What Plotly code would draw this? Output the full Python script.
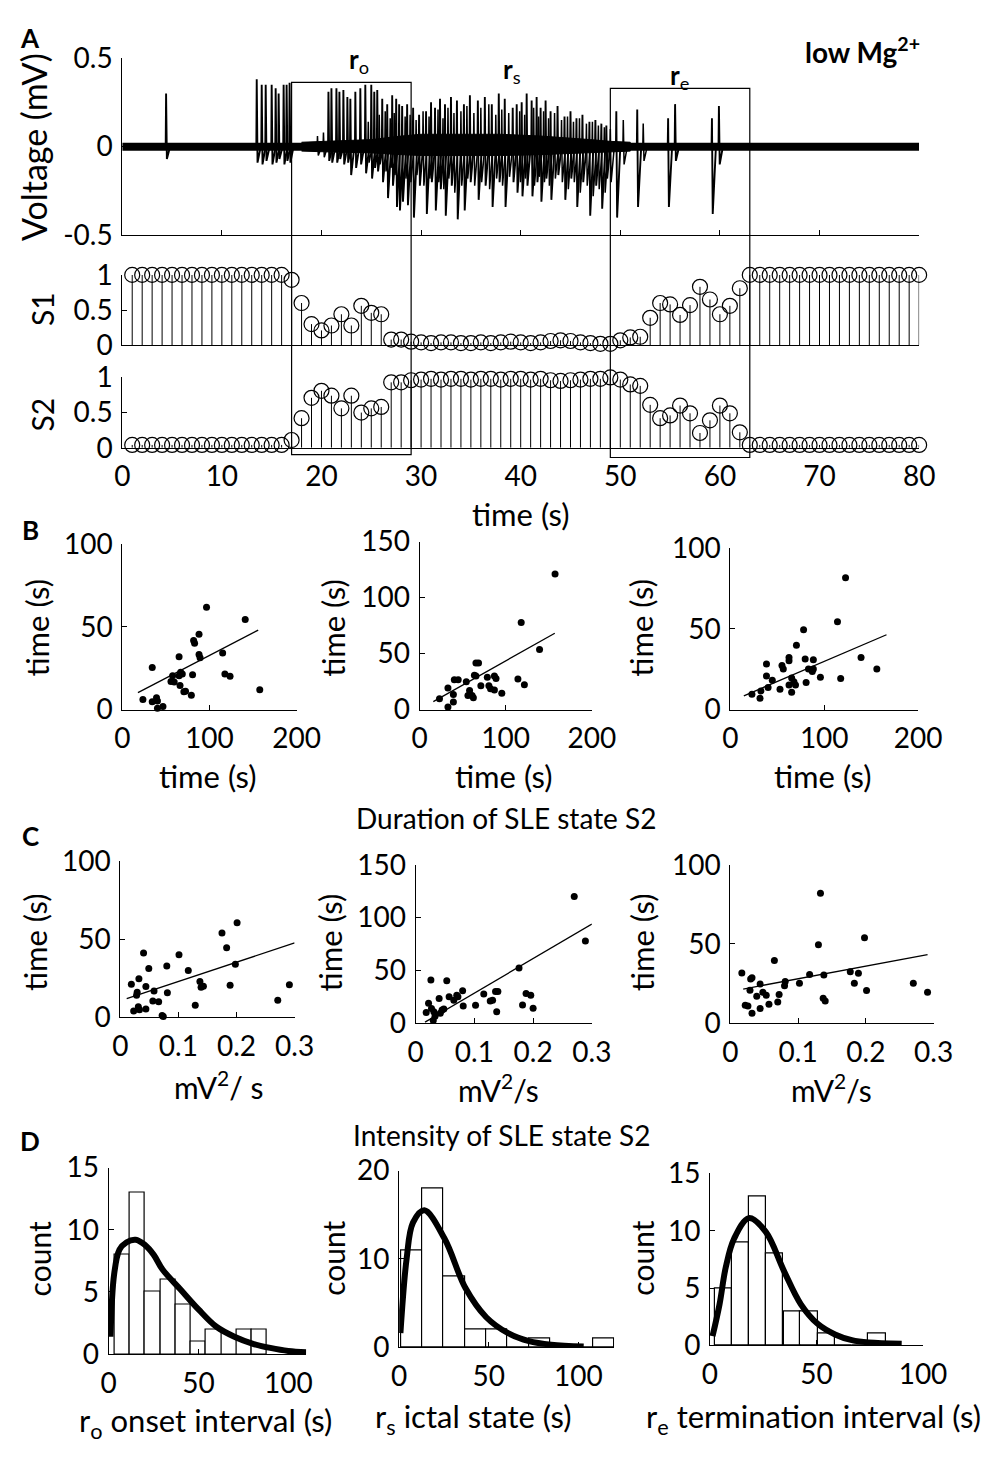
import plotly.graph_objects as go

W, H = 1008, 1460
FONT = "Lato"
BLACK = "black"

# ---------------- Panel A: field potential ----------------
trace_span = [0.0, 80.0]
# envelope of the dense background activity during the seizure (s, mV)
band_t = [18, 21, 25, 28, 30, 34, 38, 42, 45, 47, 49, 51]
band_hi = [0.025, 0.03, 0.04, 0.06, 0.07, 0.07, 0.07, 0.06, 0.05, 0.04, 0.03, 0.025]
band_lo = [-0.025, -0.03, -0.035, -0.045, -0.05, -0.05, -0.05, -0.045, -0.04, -0.035, -0.03, -0.025]
# spike events: time (s), positive peak (mV), negative trough (mV)
spike_t = [4.4,
           13.5, 14.0, 14.4, 15.0, 15.4, 15.7, 16.2, 16.5, 16.8,
           20.7, 21.0, 21.5, 21.8, 22.2, 22.6, 22.9, 23.4, 23.9, 24.4,
           25.0, 25.3, 25.6, 26.1, 26.6, 27.1, 27.5, 27.8, 28.1, 28.6,
           29.2, 29.8, 30.5, 31.0, 31.4, 31.9, 32.4, 33.0, 33.6, 34.3,
           34.9, 35.7, 36.4, 37.1, 37.8, 38.4, 39.2, 39.6, 40.1, 40.6,
           41.1, 41.6, 42.0, 42.5, 43.0, 43.7, 44.4, 45.0, 45.6, 46.2,
           46.9, 47.5, 48.1, 48.6,
           49.6, 51.7, 54.8, 55.5, 59.2, 59.9]
spike_peak = [0.30,
              0.38, 0.35, 0.35, 0.35, 0.33, 0.30, 0.35, 0.35, 0.36,
              0.31, 0.33, 0.33, 0.31, 0.32, 0.28, 0.27, 0.31, 0.33, 0.35,
              0.35, 0.31, 0.32, 0.27, 0.24, 0.29, 0.27, 0.24, 0.23, 0.24,
              0.22, 0.18, 0.20, 0.25, 0.22, 0.27, 0.24, 0.28, 0.26, 0.24,
              0.29, 0.26, 0.28, 0.24, 0.30, 0.27, 0.22, 0.24, 0.25, 0.30,
              0.26, 0.28, 0.22, 0.26, 0.20, 0.23, 0.17, 0.20, 0.16, 0.18,
              0.14, 0.15, 0.13, 0.12,
              0.20, 0.21, 0.16, 0.24, 0.16, 0.23]
spike_trough = [-0.07,
                -0.09, -0.10, -0.08, -0.10, -0.09, -0.07, -0.10, -0.08, -0.09,
                -0.08, -0.09, -0.09, -0.07, -0.10, -0.09, -0.16, -0.12, -0.10, -0.15,
                -0.18, -0.12, -0.14, -0.20, -0.29, -0.22, -0.34, -0.36, -0.31, -0.33,
                -0.40, -0.22, -0.38, -0.20, -0.36, -0.24, -0.39, -0.22, -0.41, -0.36,
                -0.20, -0.30, -0.22, -0.34, -0.20, -0.34, -0.20, -0.26, -0.28, -0.22,
                -0.28, -0.20, -0.31, -0.18, -0.30, -0.16, -0.30, -0.18, -0.34, -0.20,
                -0.39, -0.22, -0.35, -0.18,
                -0.40, -0.34, -0.34, -0.08, -0.38, -0.10]
# smaller discharges riding between the main spikes (s, mV)
minor_t = [19.6, 20.2, 24.7, 25.8, 26.4, 26.9, 27.3, 28.4, 28.9, 29.5, 30.2, 30.8, 31.7, 32.2, 32.7,
           33.3, 34.0, 34.6, 35.3, 36.0, 36.8, 37.5, 38.1, 38.8, 39.9, 40.4, 41.3, 41.8, 42.3,
           42.8, 43.4, 44.1, 44.7, 45.3, 45.9, 46.6, 47.2, 47.8, 48.4, 49.0, 50.3, 52.3]
minor_peak = [0.06, 0.08, 0.14, 0.18, 0.20, 0.16, 0.19, 0.17, 0.18, 0.15, 0.20, 0.17, 0.21, 0.16, 0.22,
              0.19, 0.20, 0.23, 0.19, 0.22, 0.24, 0.18, 0.21, 0.19, 0.20, 0.18, 0.22, 0.17, 0.20,
              0.16, 0.19, 0.15, 0.17, 0.14, 0.16, 0.13, 0.14, 0.12, 0.11, 0.10, 0.15, 0.13]
minor_trough = [-0.05, -0.06, -0.09, -0.10, -0.14, -0.12, -0.16, -0.18, -0.20, -0.16, -0.22, -0.18, -0.20, -0.24,
                -0.18, -0.26, -0.22, -0.18, -0.22, -0.20, -0.24, -0.18, -0.22, -0.17, -0.20, -0.18, -0.22,
                -0.17, -0.20, -0.22, -0.18, -0.20, -0.24, -0.20, -0.26, -0.22, -0.28, -0.24, -0.26, -0.20,
                -0.10, -0.08]

# hidden-state probabilities, one value per second
sec = list(range(1, 81))
s1 = ([1.0] * 16 +
      [0.93, 0.60, 0.30, 0.21, 0.28, 0.44, 0.28, 0.56, 0.46, 0.44, 0.08, 0.08, 0.05] +
      [0.04, 0.03, 0.04, 0.04, 0.03, 0.03, 0.04, 0.03, 0.04, 0.05,
       0.04, 0.03, 0.04, 0.06, 0.07, 0.06, 0.04, 0.03, 0.02] +
      [0.02, 0.07, 0.11, 0.12, 0.39, 0.60, 0.58, 0.43, 0.57, 0.83, 0.65, 0.44, 0.56, 0.81] +
      [1.0] * 18)
s2 = ([0.04] * 16 +
      [0.11, 0.42, 0.71, 0.81, 0.74, 0.56, 0.74, 0.50, 0.56, 0.58, 0.93, 0.93, 0.96] +
      [0.97, 0.98, 0.97, 0.98, 0.98, 0.97, 0.98, 0.98, 0.97, 0.98,
       0.98, 0.97, 0.98, 0.96, 0.95, 0.96, 0.97, 0.98, 0.98] +
      [1.0, 0.97, 0.90, 0.88, 0.61, 0.42, 0.46, 0.60, 0.49, 0.21, 0.39, 0.60, 0.49, 0.22] +
      [0.04] * 18)

onset_win = [17, 29]
term_win = [49, 63]

# ---------------- Panel B: duration vs duration ----------------
b1_x = [23.7, 34.4, 34.4, 39.3, 40.4, 40.4, 46.7, 57.8, 55.9, 59.6, 65.2, 65.2, 67.0, 66.3, 68.9,
        70.7, 72.6, 79.3, 80.7, 81.9, 83.0, 88.1, 88.1, 89.3, 96.7, 115.2, 117.8, 123.7, 141.1, 157.8]
b1_y = [6.1, 25.4, 4.7, 7.1, 5.1, 0.8, 1.8, 20.5, 17.0, 16.6, 32.0, 20.5, 22.5, 14.6, 21.5,
        10.7, 11.0, 8.7, 21.1, 41.8, 40.2, 45.6, 33.3, 31.4, 62.0, 34.3, 21.5, 20.1, 54.6, 12.0]
b1_fit_x = [18, 156]
b1_fit_y = [10.2, 48.1]

b2_x = [23.2, 33.0, 33.0, 39.3, 39.3, 40.4, 44.9, 54.3, 56.2, 58.1, 61.0, 62.5, 63.7, 65.5, 68.5,
        65.5, 71.2, 78.7, 80.5, 82.4, 86.9, 86.9, 88.8, 95.5, 114.2, 121.7, 118.0, 139.3, 157.3]
b2_y = [9.6, 19.2, 2.3, 13.4, 6.7, 26.5, 26.5, 24.7, 12.5, 16.9, 12.5, 10.5, 30.6, 41.6, 41.6,
        30.0, 21.3, 28.8, 21.3, 18.6, 17.5, 30.0, 27.7, 14.6, 27.3, 22.1, 77.7, 53.5, 121.0]
b2_fit_x = [16, 157]
b2_fit_y = [7.0, 68.1]

b3_x = [23.0, 31.6, 32.6, 38.5, 38.5, 40.2, 44.7, 52.9, 55.0, 56.4, 62.5, 62.5, 62.5, 65.3, 65.3,
        67.7, 69.4, 70.4, 78.0, 79.7, 80.7, 83.2, 87.3, 88.4, 88.4, 95.9, 114.1, 117.5, 122.7, 139.2, 156.0]
b3_y = [9.5, 7.0, 11.5, 28.2, 20.8, 13.7, 18.2, 12.5, 27.3, 25.2, 32.3, 30.3, 15.2, 19.6, 10.7,
        17.2, 15.2, 39.8, 49.5, 31.3, 16.7, 25.2, 23.6, 30.9, 25.2, 20.0, 54.5, 19.2, 81.8, 32.3, 25.2]
b3_fit_x = [14.4, 166.3]
b3_fit_y = [8.5, 46.4]

# ---------------- Panel C: intensity vs duration ----------------
c1_x = [0.019, 0.023, 0.028, 0.029, 0.031, 0.032, 0.033, 0.040, 0.044, 0.044, 0.049, 0.056, 0.058,
        0.066, 0.072, 0.074, 0.080, 0.081, 0.101, 0.117, 0.129, 0.137, 0.139, 0.143, 0.175, 0.183,
        0.189, 0.198, 0.201, 0.271, 0.291]
c1_y = [21.1, 4.0, 14.0, 16.0, 6.6, 24.6, 4.8, 41.0, 19.6, 5.2, 31.2, 10.4, 16.7,
        9.8, 1.0, 0.4, 32.7, 15.6, 40.0, 29.8, 7.7, 22.9, 19.1, 19.8, 53.8, 44.4,
        20.4, 33.8, 60.4, 10.8, 20.8]
c1_fit_x = [0.011, 0.300]
c1_fit_y = [11.9, 47.5]

c2_x = [0.018, 0.022, 0.026, 0.027, 0.031, 0.030, 0.033, 0.040, 0.042, 0.045, 0.048, 0.053, 0.057,
        0.065, 0.070, 0.072, 0.080, 0.081, 0.102, 0.116, 0.127, 0.131, 0.136, 0.140, 0.138, 0.176,
        0.182, 0.188, 0.196, 0.200, 0.270, 0.289]
c2_y = [10.1, 18.7, 40.8, 13.8, 10.7, 2.4, 6.4, 23.3, 9.2, 12.3, 13.2, 40.2, 24.9,
        21.5, 26.4, 25.0, 30.7, 16.2, 16.9, 27.6, 20.8, 21.5, 30.0, 30.0, 10.7, 52.2,
        17.2, 27.9, 26.4, 14.1, 120.0, 77.7]
c2_fit_x = [0.016, 0.300]
c2_fit_y = [0.9, 93.8]

c3_x = [0.017, 0.022, 0.026, 0.029, 0.030, 0.032, 0.032, 0.039, 0.044, 0.044, 0.048, 0.053, 0.057,
        0.065, 0.070, 0.072, 0.080, 0.081, 0.102, 0.117, 0.130, 0.133, 0.137, 0.138, 0.140, 0.177,
        0.183, 0.189, 0.198, 0.201, 0.270, 0.291]
c3_y = [31.7, 11.3, 10.8, 20.7, 27.9, 6.2, 28.7, 17.0, 24.6, 9.2, 19.4, 17.6, 11.9,
        39.5, 13.3, 18.0, 23.6, 26.2, 25.2, 30.7, 49.4, 82.0, 15.6, 30.3, 13.9, 32.4,
        25.2, 31.4, 53.9, 20.5, 25.2, 19.4]
c3_fit_x = [0.019, 0.291]
c3_fit_y = [21.5, 43.2]

# ---------------- Panel D: interval histograms with fitted densities ----------------
d1_centers = [7.5, 16.0, 24.5, 33.0, 41.5, 50.0, 58.5, 67.0, 75.5, 84.0]
d1_counts = [8, 13, 5, 6, 4, 1, 2, 0, 2, 2]
d1_width = 8.5
d1_fit_x = [1, 3, 6, 10, 15, 20, 25, 30, 40, 50, 60, 70, 80, 90, 100, 110]
d1_fit_y = [1.4, 6.4, 8.4, 9.0, 9.2, 8.8, 8.0, 6.8, 5.2, 3.6, 2.2, 1.4, 0.85, 0.5, 0.25, 0.15]

d2_centers = [6.9, 18.8, 30.7, 42.6, 54.5, 66.4, 78.3, 90.2, 102.1, 114.0]
d2_counts = [11, 18, 8, 2, 2, 0, 1, 0, 0, 1]
d2_width = 11.9
d2_fit_x = [0.7, 4.2, 7.7, 14.0, 25.3, 37.0, 48.6, 60.8, 72.5, 84.9, 103.0]
d2_fit_y = [1.6, 10.1, 14.1, 15.5, 12.3, 6.7, 3.4, 1.6, 0.7, 0.3, 0.1]

d3_centers = [6.15, 14.35, 22.25, 30.45, 38.65, 46.5, 54.55, 62.65, 70.55, 78.4]
d3_counts = [5, 9, 13, 8, 3, 3, 1, 0, 0, 1]
d3_width = 8.05
d3_fit_x = [1.2, 4.5, 7.4, 11.3, 18.3, 26.2, 34.7, 42.6, 50.4, 58.7, 66.6, 74.5, 90.0]
d3_fit_y = [0.8, 3.6, 6.8, 9.3, 11.1, 9.9, 6.5, 3.6, 1.9, 0.95, 0.45, 0.25, 0.15]


# ---------------- helpers ----------------
def dom_x(left, right):
    return [left / W, right / W]


def dom_y(top, bottom):
    return [1 - bottom / H, 1 - top / H]


def px(x):
    return x / W


def py(y):
    return 1 - y / H


fig = go.Figure()
layout = dict(width=W, height=H, margin=dict(l=0, r=0, t=0, b=0),
              paper_bgcolor="white", plot_bgcolor="white", showlegend=False,
              font=dict(family=FONT, color=BLACK))

TICKFONT = dict(family=FONT, size=28, color=BLACK)


def axis_pair(n, xdom, ydom, xr, yr, xt=None, xtt=None, yt=None, ytt=None,
              xlabels=True, xticks="inside", yticks="inside", xline=True):
    sx = "" if n == 1 else str(n)
    layout["xaxis" + sx] = dict(
        domain=dom_x(*xdom), range=xr, anchor="y" + sx, showgrid=False, zeroline=False,
        showline=xline, linecolor=BLACK, linewidth=1, mirror=False,
        ticks=xticks if xt else "", ticklen=5, tickwidth=1, tickcolor=BLACK,
        tickvals=xt, ticktext=xtt if xlabels else None, showticklabels=bool(xlabels and xt),
        tickfont=TICKFONT, ticklabelstandoff=4, fixedrange=True)
    layout["yaxis" + sx] = dict(
        domain=dom_y(*ydom), range=yr, anchor="x" + sx, showgrid=False, zeroline=False,
        showline=True, linecolor=BLACK, linewidth=1, mirror=False,
        ticks=yticks, ticklen=5, tickwidth=1, tickcolor=BLACK,
        tickvals=yt, ticktext=ytt, tickfont=TICKFONT, ticklabelstandoff=3, fixedrange=True)
    return ("x" + sx, "y" + sx)


# ---------------- Panel A axes ----------------
tenths = list(range(0, 81, 10))
ax_v = axis_pair(1, (118, 941), (41, 222.5), [0, 80], [-0.5, 0.5],
                 xt=tenths, xlabels=False, yt=[-0.5, 0, 0.5], ytt=["-0.5", "0", "0.5"])
ax_s1 = axis_pair(2, (118, 941), (263, 335), [0, 80], [0, 1],
                  xt=None, yt=[0, 0.5, 1], ytt=["0", "0.5", "1"])
ax_s2 = axis_pair(3, (118, 941), (368, 440), [0, 80], [0, 1],
                  xt=tenths, xtt=[str(v) for v in tenths], xticks="",
                  yt=[0, 0.5, 1], ytt=["0", "0.5", "1"])

# dense background activity
fig.add_trace(go.Scatter(x=band_t + band_t[::-1], y=band_hi + band_lo[::-1], mode="lines",
                         fill="toself", fillcolor=BLACK, line=dict(color=BLACK, width=1),
                         xaxis=ax_v[0], yaxis=ax_v[1], hoverinfo="skip"))
# baseline activity
fig.add_trace(go.Scatter(x=trace_span, y=[0, 0], mode="lines",
                         line=dict(color=BLACK, width=8), xaxis=ax_v[0], yaxis=ax_v[1],
                         hoverinfo="skip"))


def spikes(ts, pks, trs, width):
    # each discharge: rise to peak, fall to trough, recover to baseline
    vx, vy = [], []
    for t, pk, tr in zip(ts, pks, trs):
        vx += [t - 0.04, t, t + 0.08, t + 0.4, None]
        vy += [0, pk, tr, 0, None]
    fig.add_trace(go.Scatter(x=vx, y=vy, mode="lines", line=dict(color=BLACK, width=width),
                             xaxis=ax_v[0], yaxis=ax_v[1], hoverinfo="skip"))


spikes(minor_t, minor_peak, minor_trough, 1.5)
spikes(spike_t, spike_peak, spike_trough, 1.9)


def stems(vals, axp):
    sx, sy = [], []
    for t, v in zip(sec, vals):
        sx += [t, t, None]
        sy += [0, v, None]
    fig.add_trace(go.Scatter(x=sx, y=sy, mode="lines", line=dict(color=BLACK, width=1),
                             xaxis=axp[0], yaxis=axp[1], hoverinfo="skip"))
    fig.add_trace(go.Scatter(x=sec, y=vals, mode="markers", cliponaxis=False,
                             marker=dict(symbol="circle-open", size=15, color=BLACK,
                                         line=dict(width=1.2, color=BLACK)),
                             xaxis=axp[0], yaxis=axp[1]))


stems(s1, ax_s1)
stems(s2, ax_s2)

shapes = []
for (a, b), top, bot in [(onset_win, 66, 447), (term_win, 72, 450)]:
    shapes.append(dict(type="rect", xref="x", yref="paper", x0=a, x1=b,
                       y0=py(bot), y1=py(top), line=dict(color=BLACK, width=1.2),
                       layer="above"))

# ---------------- Panels B, C ----------------
scatter_panels = [
    (4, (118, 298), (539, 708), [0, 200], [0, 100], [0, 100, 200], ["0", "100", "200"],
     [0, 50, 100], b1_x, b1_y, b1_fit_x, b1_fit_y),
    (5, (425, 603), (536, 708), [0, 200], [0, 150], [0, 100, 200], ["0", "100", "200"],
     [0, 50, 100, 150], b2_x, b2_y, b2_fit_x, b2_fit_y),
    (6, (746, 940), (543, 708), [0, 200], [0, 100], [0, 100, 200], ["0", "100", "200"],
     [0, 50, 100], b3_x, b3_y, b3_fit_x, b3_fit_y),
    (7, (116, 296), (863, 1023), [0, 0.3], [0, 100], [0, 0.1, 0.2, 0.3], ["0", "0.1", "0.2", "0.3"],
     [0, 50, 100], c1_x, c1_y, c1_fit_x, c1_fit_y),
    (8, (421, 603), (867, 1029), [0, 0.3], [0, 150], [0, 0.1, 0.2, 0.3], ["0", "0.1", "0.2", "0.3"],
     [0, 50, 100, 150], c2_x, c2_y, c2_fit_x, c2_fit_y),
    (9, (746, 956), (867, 1029), [0, 0.3], [0, 100], [0, 0.1, 0.2, 0.3], ["0", "0.1", "0.2", "0.3"],
     [0, 50, 100], c3_x, c3_y, c3_fit_x, c3_fit_y),
]
for n, xd, yd, xr, yr, xt, xtt, yt, sx, sy, fx, fy in scatter_panels:
    axp = axis_pair(n, xd, yd, xr, yr, xt=xt, xtt=xtt, yt=yt, ytt=[str(v) for v in yt])
    fig.add_trace(go.Scatter(x=fx, y=fy, mode="lines", line=dict(color=BLACK, width=1.3),
                             xaxis=axp[0], yaxis=axp[1], hoverinfo="skip"))
    fig.add_trace(go.Scatter(x=sx, y=sy, mode="markers", cliponaxis=False,
                             marker=dict(size=7, color=BLACK),
                             xaxis=axp[0], yaxis=axp[1]))

# ---------------- Panel D ----------------
hist_panels = [
    (10, (104, 308), (1177, 1368), [0, 110], [0, 15], [0, 5, 10, 15],
     d1_centers, d1_counts, d1_width, d1_fit_x, d1_fit_y),
    (11, (404, 626), (1180, 1361), [0, 120], [0, 20], [0, 10, 20],
     d2_centers, d2_counts, d2_width, d2_fit_x, d2_fit_y),
    (12, (725, 945), (1183, 1359), [0, 100], [0, 15], [0, 5, 10, 15],
     d3_centers, d3_counts, d3_width, d3_fit_x, d3_fit_y),
]
for n, xd, yd, xr, yr, yt, cx, cnt, bw, fx, fy in hist_panels:
    axp = axis_pair(n, xd, yd, xr, yr, xt=[0, 50, 100], xtt=["0", "50", "100"],
                    yt=yt, ytt=[str(v) for v in yt])
    fig.add_trace(go.Bar(x=cx, y=cnt, width=bw, marker=dict(color="white",
                         line=dict(color=BLACK, width=1.2)),
                         xaxis=axp[0], yaxis=axp[1], hoverinfo="skip"))
    fig.add_trace(go.Scatter(x=fx, y=fy, mode="lines", line=dict(color=BLACK, width=6, shape="spline"),
                             cliponaxis=False, xaxis=axp[0], yaxis=axp[1], hoverinfo="skip"))

layout["bargap"] = 0

# ---------------- text ----------------
ann = []


def label(text, x, y, size=31, angle=0, bold=False):
    if bold:
        text = "<b>" + text + "</b>"
    ann.append(dict(text=text, x=px(x), y=py(y), xref="paper", yref="paper",
                    showarrow=False, xanchor="center", yanchor="middle",
                    textangle=angle, font=dict(family=FONT, size=size, color=BLACK)))


label("A", 23, 20, size=26, bold=True)
label("B", 23, 524, size=26, bold=True)
label("C", 23, 838, size=26, bold=True)
label("D", 23, 1150, size=26, bold=True)

label("Voltage (mV)", 27, 132, size=34, angle=-90)
label("S1", 35, 298, size=30, angle=-90)
label("S2", 35, 406, size=30, angle=-90)
label("time (s)", 530, 508)
label("<b>r</b><sub>o</sub>", 362, 44, size=26)
label("<b>r</b><sub>s</sub>", 521, 54, size=26)
label("<b>r</b><sub>e</sub>", 694, 60, size=26)
label("<b>low Mg<sup>2+</sup></b>", 882, 33, size=28)

for xc in (30, 336, 654):
    label("time (s)", xc, 624, angle=-90)
for xc, title in ((207, "time (s)"), (512, "time (s)"), (842, "time (s)")):
    label(title, xc, 776)
label("Duration of SLE state S2", 514, 819, size=28)

for xc in (28, 333, 655):
    label("time (s)", xc, 946, angle=-90)
label("mV<sup>2</sup>/ s", 217, 1092, size=30)
label("mV<sup>2</sup>/s", 507, 1095, size=30)
label("mV<sup>2</sup>/s", 850, 1095, size=30)
label("Intensity of SLE state S2", 510, 1144, size=28)

for xc in (32, 336, 655):
    label("count", xc, 1270, size=30, angle=-90)
label("r<sub>o</sub> onset interval (s)", 204, 1438)
label("r<sub>s</sub> ictal state (s)", 480, 1434)
label("r<sub>e</sub> termination interval (s)", 832, 1434)

layout["annotations"] = ann
layout["shapes"] = shapes
fig.update_layout(**layout)
fig.write_html("out.html", post_script="document.body.style.margin='0';")
